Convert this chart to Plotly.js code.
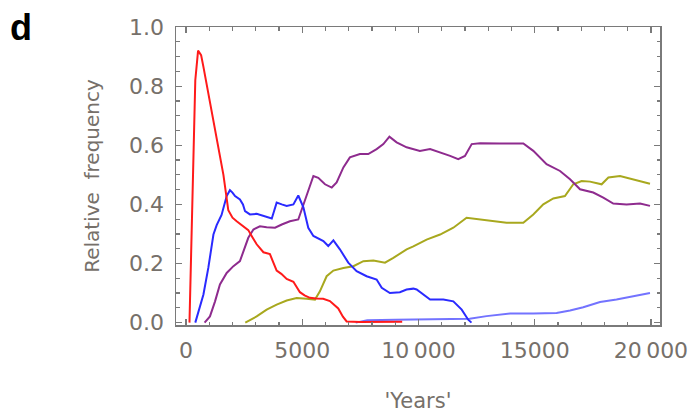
<!DOCTYPE html>
<html>
<head>
<meta charset="utf-8">
<script src="https://cdn.plot.ly/plotly-3.0.1.min.js"></script>
<style>
  html, body { margin: 0; padding: 0; background: #ffffff; }
  #chart { width: 690px; height: 413px; }
</style>
</head>
<body>
<div id="chart"></div>
<script>
// Relative frequency of each variant over simulated years
const redYears = [150, 280, 400, 520, 650, 750, 1030, 1320, 1610, 1820, 2000, 2180, 2450, 2680, 2850, 3040, 3330, 3610, 3750, 3900, 4100, 4330, 4620, 4900, 5100, 5330, 5600, 5900, 6190, 6400, 6550, 6750, 6910, 7500, 8200, 8800, 9300];
const redFreq = [0, 0.45, 0.82, 0.92, 0.905, 0.865, 0.75, 0.625, 0.50, 0.38, 0.355, 0.343, 0.328, 0.313, 0.29, 0.265, 0.238, 0.232, 0.205, 0.176, 0.165, 0.148, 0.138, 0.103, 0.092, 0.084, 0.082, 0.081, 0.073, 0.06, 0.048, 0.02, 0.004, 0.002, 0.003, 0.002, 0.003];

const blueYears = [400, 600, 750, 960, 1180, 1320, 1530, 1750, 1890, 2000, 2110, 2320, 2450, 2540, 2750, 3040, 3330, 3690, 3800, 3900, 4120, 4330, 4620, 4830, 5050, 5260, 5480, 5700, 5910, 6120, 6340, 6620, 6980, 7340, 7770, 8200, 8420, 8770, 9200, 9490, 9780, 9920, 10500, 11070, 11500, 11860, 12140, 12280];
const blueFreq = [0, 0.05, 0.095, 0.185, 0.298, 0.33, 0.364, 0.428, 0.448, 0.44, 0.428, 0.417, 0.40, 0.377, 0.366, 0.368, 0.36, 0.352, 0.38, 0.406, 0.40, 0.395, 0.40, 0.43, 0.39, 0.321, 0.293, 0.285, 0.276, 0.259, 0.278, 0.248, 0.203, 0.174, 0.157, 0.146, 0.118, 0.10, 0.103, 0.112, 0.115, 0.112, 0.078, 0.078, 0.072, 0.044, 0.010, 0];

const purpleYears = [800, 1030, 1250, 1460, 1750, 2040, 2320, 2470, 2680, 2900, 3180, 3470, 3830, 4120, 4470, 4830, 5050, 5260, 5480, 5690, 5980, 6270, 6480, 6770, 7050, 7480, 7840, 8200, 8490, 8750, 9060, 9490, 9780, 10060, 10500, 10930, 11360, 11710, 12000, 12290, 12650, 13500, 14510, 14940, 15510, 16090, 16520, 16950, 17520, 17950, 18380, 18950, 19530, 19960];
const purpleFreq = [0, 0.021, 0.072, 0.129, 0.168, 0.191, 0.208, 0.242, 0.287, 0.315, 0.326, 0.323, 0.321, 0.332, 0.343, 0.349, 0.40, 0.445, 0.496, 0.49, 0.468, 0.457, 0.474, 0.525, 0.559, 0.57, 0.57, 0.587, 0.604, 0.629, 0.61, 0.593, 0.587, 0.581, 0.587, 0.576, 0.564, 0.553, 0.564, 0.604, 0.607, 0.606, 0.606, 0.581, 0.536, 0.513, 0.485, 0.451, 0.44, 0.423, 0.403, 0.40, 0.403, 0.395];

const oliveYears = [2550, 3040, 3470, 3900, 4330, 4760, 5190, 5550, 5760, 6050, 6340, 6770, 7200, 7630, 8060, 8560, 8920, 9490, 9780, 10350, 10930, 11500, 12070, 12500, 13080, 13790, 14510, 14940, 15370, 15800, 16300, 16660, 17020, 17380, 17880, 18170, 18670, 19240, 19960];
const oliveFreq = [0, 0.021, 0.044, 0.061, 0.075, 0.083, 0.081, 0.078, 0.106, 0.157, 0.176, 0.185, 0.191, 0.208, 0.21, 0.203, 0.219, 0.248, 0.258, 0.281, 0.298, 0.321, 0.355, 0.351, 0.343, 0.338, 0.338, 0.366, 0.40, 0.42, 0.428, 0.468, 0.479, 0.477, 0.468, 0.491, 0.496, 0.485, 0.470];

const lightBlueYears = [7300, 7800, 9000, 10500, 12200, 12930, 13940, 14940, 15940, 16520, 17090, 17810, 18520, 19240, 19960];
const lightBlueFreq = [0, 0.008, 0.01, 0.012, 0.013, 0.022, 0.031, 0.031, 0.033, 0.041, 0.052, 0.07, 0.078, 0.089, 0.10];

const xTickVals = [0, 5000, 10000, 15000, 20000];
const xTickText = ["0", "5000", "10\u2009000", "15000", "20\u2009000"];
const yTickVals = [0, 0.2, 0.4, 0.6, 0.8, 1.0];
const yTickText = ["0.0", "0.2", "0.4", "0.6", "0.8", "1.0"];

const labelColor = "#76706a";
const frameColor = "#7a7a7a";
const tickFont = { family: "DejaVu Sans", size: 22, color: labelColor };

function series(x, y, color) {
  return { x: x, y: y, type: "scatter", mode: "lines",
           line: { color: color, width: 2 }, hoverinfo: "skip", showlegend: false };
}

const traces = [
  series(oliveYears, oliveFreq, "#a8a81e"),
  series(purpleYears, purpleFreq, "#8e2b8e"),
  series(lightBlueYears, lightBlueFreq, "#7373ff"),
  series(blueYears, blueFreq, "#2a2aff"),
  series(redYears, redFreq, "#ff1a1a")
];

const xRange = [-430, 20390];
const yRange = [-0.008, 1.0];

// shared frame styling for all four sides
function frameAxis(extra) {
  return Object.assign({
    showgrid: false, zeroline: false,
    showline: true, linecolor: frameColor, linewidth: 1.5,
    tickmode: "array",
    ticks: "inside", ticklen: 6, tickwidth: 1.2, tickcolor: frameColor
  }, extra);
}

const layout = {
  width: 690, height: 413,
  margin: { l: 176, r: 30, t: 27, b: 88 },
  paper_bgcolor: "#ffffff", plot_bgcolor: "#ffffff",
  xaxis: frameAxis({
    range: xRange, tickvals: xTickVals, ticktext: xTickText,
    ticklabelstandoff: 5,
    minor: { dtick: 1000, ticks: "inside", ticklen: 3.5, tickcolor: frameColor, tickwidth: 1.2 },
    tickfont: tickFont,
    title: { text: "'Years'", font: { family: "DejaVu Sans", size: 21, color: labelColor }, standoff: 31 }
  }),
  yaxis: frameAxis({
    range: yRange, tickvals: yTickVals, ticktext: yTickText,
    ticklabelstandoff: 6,
    minor: { dtick: 0.05, ticks: "inside", ticklen: 3.5, tickcolor: frameColor, tickwidth: 1.2 },
    tickfont: tickFont,
    title: { text: "Relative  frequency", font: { family: "DejaVu Sans", size: 20, color: labelColor }, standoff: 24 }
  }),
  xaxis2: frameAxis({
    overlaying: "x", side: "top", range: xRange,
    tickvals: xTickVals, showticklabels: false,
    minor: { dtick: 1000, ticks: "inside", ticklen: 3.5, tickcolor: frameColor, tickwidth: 1.2 }
  }),
  yaxis2: frameAxis({
    overlaying: "y", side: "right", range: yRange,
    tickvals: yTickVals, showticklabels: false,
    minor: { dtick: 0.05, ticks: "inside", ticklen: 3.5, tickcolor: frameColor, tickwidth: 1.2 }
  }),
  annotations: [
    { text: "<b>d</b>", xref: "paper", yref: "paper", x: -0.320, y: 1.0,
      xanchor: "center", yanchor: "middle", showarrow: false,
      font: { family: "Liberation Sans", size: 36, color: "#000000" } }
  ]
};

// invisible carrier so the top/right frame axes are drawn
traces.push({ x: [0], y: [0], xaxis: "x2", yaxis: "y2", type: "scatter", mode: "markers",
              marker: { opacity: 0 }, hoverinfo: "skip", showlegend: false });

Plotly.newPlot("chart", traces, layout, { staticPlot: true, displayModeBar: false });
</script>
</body>
</html>
